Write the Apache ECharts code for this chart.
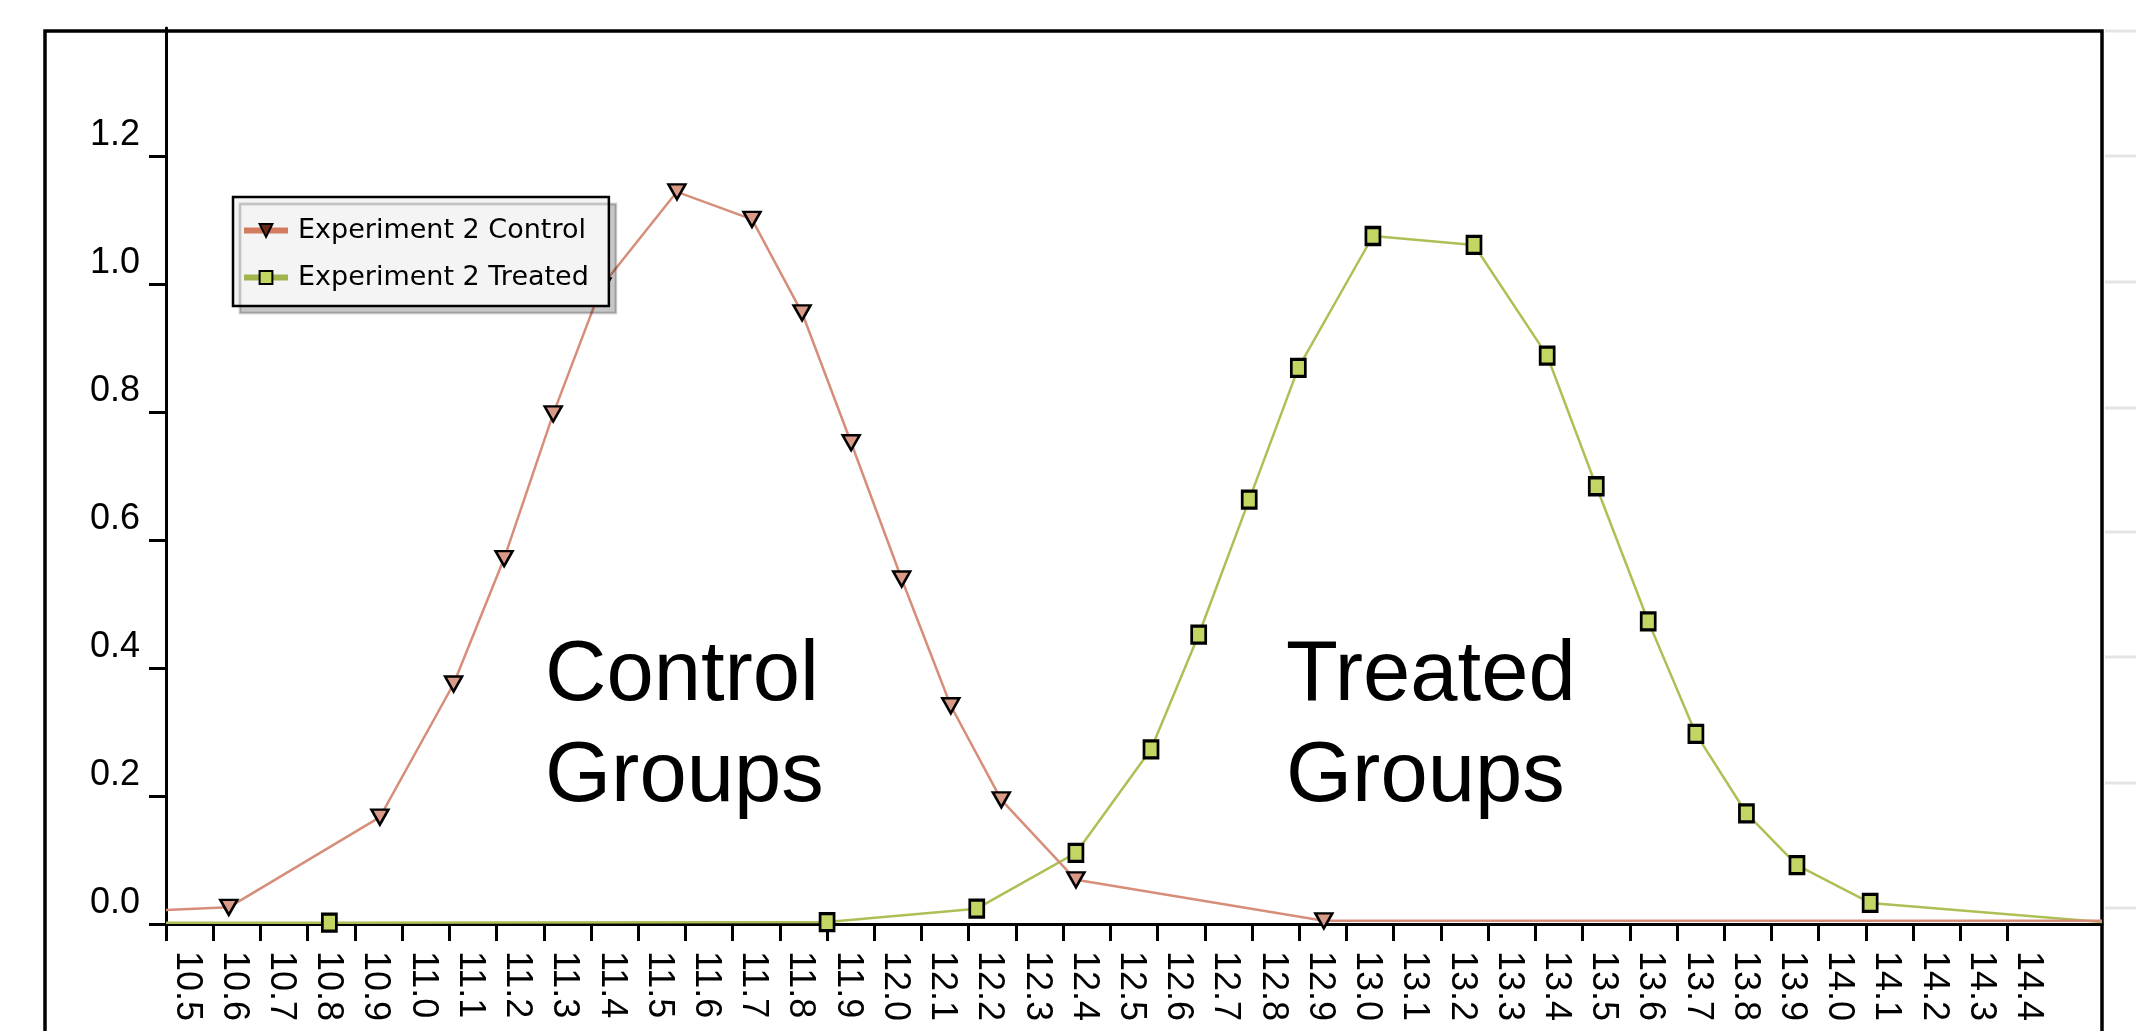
<!DOCTYPE html>
<html><head><meta charset="utf-8">
<script src="https://cdn.jsdelivr.net/npm/echarts@6/dist/echarts.min.js"></script>
<style>html,body{margin:0;padding:0;background:#fff}#c{width:2136px;height:1031px}</style>
</head><body><div id="c"></div>
<script>
const seriesNames = ['Experiment 2 Control', 'Experiment 2 Treated'];
const xTickLabels = ['10.5','10.6','10.7','10.8','10.9','11.0','11.1','11.2','11.3','11.4',
  '11.5','11.6','11.7','11.8','11.9','12.0','12.1','12.2','12.3','12.4',
  '12.5','12.6','12.7','12.8','12.9','13.0','13.1','13.2','13.3','13.4',
  '13.5','13.6','13.7','13.8','13.9','14.0','14.1','14.2','14.3','14.4'];
const yTickLabels = ['0.0','0.2','0.4','0.6','0.8','1.0','1.2'];
const controlX = [10.5, 10.633, 10.953, 11.109, 11.216, 11.320, 11.423, 11.582, 11.741, 11.847, 11.951, 12.058, 12.162, 12.269, 12.427, 12.952, 14.6];
const controlY = [0.022, 0.026, 0.167, 0.375, 0.571, 0.797, 0.997, 1.144, 1.101, 0.955, 0.752, 0.539, 0.341, 0.194, 0.069, 0.005, 0.005];
const treatedX = [10.5, 10.846, 11.900, 12.217, 12.427, 12.586, 12.687, 12.794, 12.898, 13.056, 13.270, 13.425, 13.529, 13.639, 13.740, 13.847, 13.954, 14.109, 14.6];
const treatedY = [0.002, 0.002, 0.003, 0.024, 0.111, 0.273, 0.452, 0.663, 0.869, 1.075, 1.061, 0.888, 0.684, 0.473, 0.297, 0.173, 0.092, 0.033, 0.003];
const annotations = ['Control\nGroups', 'Treated\nGroups'];

function buildData(xs, ys) {
  return xs.map(function (x, i) {
    const item = { value: [x, ys[i]] };
    if (i === 0 || i === xs.length - 1) item.symbol = 'none';
    return item;
  });
}

const labelFont = "'Liberation Sans Narrow', 'Liberation Sans', Arial, sans-serif";
const chart = echarts.init(document.getElementById('c'), null, { renderer: 'canvas' });

const bgLines = [31, 156, 282, 408, 532, 657, 783, 908].map(function (y) {
  return { type: 'line', shape: { x1: 2105, y1: y, x2: 2136, y2: y }, style: { stroke: '#e4e4e4', lineWidth: 3 }, silent: true };
});

chart.setOption({
  animation: false,
  backgroundColor: '#ffffff',
  grid: { left: 166, right: 34, top: 28, bottom: 107, containLabel: false },
  xAxis: {
    type: 'value', min: 10.5, max: 14.6,
    axisLine: { show: true, onZero: false, lineStyle: { color: '#000', width: 3 } },
    axisTick: { show: true, length: 17, lineStyle: { color: '#000', width: 3 }, customValues: xTickLabels.map(Number) },
    axisLabel: {
      customValues: xTickLabels.map(Number),
      formatter: function (v) { return Number(v).toFixed(1); },
      rotate: -90, margin: 27, align: 'left', verticalAlign: 'bottom', lineHeight: 41,
      fontFamily: labelFont, fontSize: 36, color: '#000'
    },
    splitLine: { show: false }
  },
  yAxis: {
    type: 'value', min: 0, max: 1.4, interval: 0.2,
    axisLine: { show: true, lineStyle: { color: '#000', width: 3 } },
    axisTick: { show: true, length: 17, lineStyle: { color: '#000', width: 3 }, customValues: yTickLabels.map(Number) },
    axisLabel: {
      customValues: yTickLabels.map(Number),
      formatter: function (v) { return Number(v).toFixed(1); },
      margin: 26, verticalAlign: 'bottom', lineHeight: 41,
      fontFamily: labelFont, fontSize: 36, color: '#000'
    },
    splitLine: { show: false }
  },
  legend: {
    orient: 'vertical', left: 233, top: 197,
    backgroundColor: '#f4f4f4', borderColor: '#000', borderWidth: 2.5, borderRadius: 0,
    shadowColor: 'rgba(0,0,0,0.22)', shadowOffsetX: 7, shadowOffsetY: 7, shadowBlur: 1,
    padding: [20, 20, 15, 8], itemGap: 20, itemWidth: 44, itemHeight: 16,
    textStyle: { fontFamily: "'DejaVu Sans', sans-serif", fontSize: 27, color: '#000', padding: [0, 0, 0, 5] },
    data: [
      { name: seriesNames[0], lineStyle: { color: '#d47a5e', width: 6 }, itemStyle: { color: '#6a2a1a', borderColor: '#000', borderWidth: 2 } },
      { name: seriesNames[1], lineStyle: { color: '#a0b44c', width: 6 } }
    ]
  },
  series: [
    {
      type: 'line', name: seriesNames[0], data: buildData(controlX, controlY),
      symbol: 'triangle', symbolRotate: 180, symbolSize: [17, 15], showAllSymbol: true,
      lineStyle: { color: '#d68e7a', width: 2.5 },
      itemStyle: { color: '#d99a88', borderColor: '#000', borderWidth: 2.5 },
      z: 3
    },
    {
      type: 'line', name: seriesNames[1], data: buildData(treatedX, treatedY),
      symbol: 'rect', symbolSize: [14, 17], showAllSymbol: true,
      lineStyle: { color: '#adc055', width: 2.5 },
      itemStyle: { color: '#c3d664', borderColor: '#000', borderWidth: 3 },
      z: 2
    }
  ],
  graphic: [
    { type: 'rect', shape: { x: 45, y: 31, width: 2057, height: 1100 }, style: { fill: 'none', stroke: '#000', lineWidth: 3.5 }, silent: true, z: -1 },
    { type: 'text', x: 545, y: 626, style: { text: annotations[0], font: "85px 'Liberation Sans', Arial, sans-serif", lineHeight: 101, fill: '#000', verticalAlign: 'top', align: 'left' }, silent: true },
    { type: 'text', x: 1286, y: 626, style: { text: annotations[1], font: "85px 'Liberation Sans', Arial, sans-serif", lineHeight: 101, fill: '#000', verticalAlign: 'top', align: 'left' }, silent: true }
  ].concat(bgLines)
});
</script>
</body></html>
